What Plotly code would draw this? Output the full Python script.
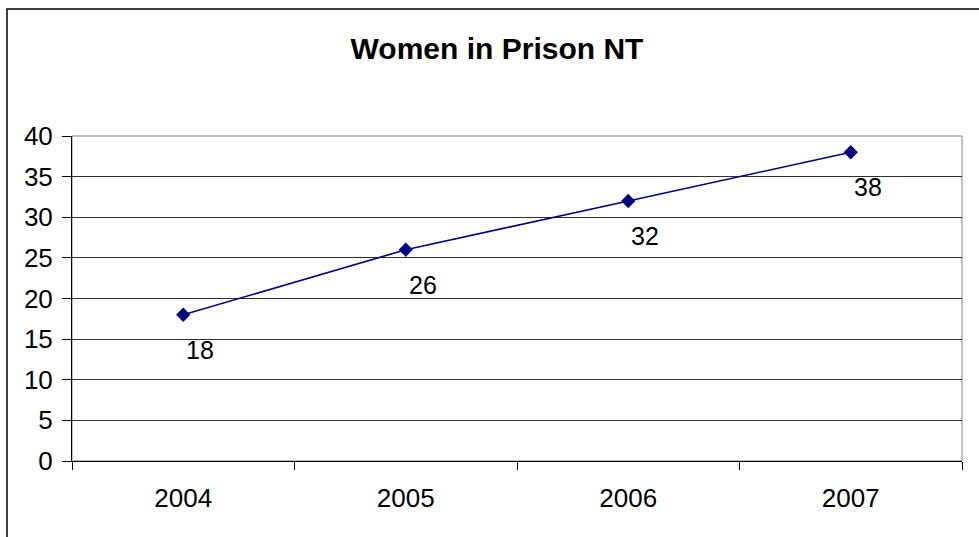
import plotly.graph_objects as go

# Data
years = ["2004", "2005", "2006", "2007"]
women = [18, 26, 32, 38]
y_ticks = [0, 5, 10, 15, 20, 25, 30, 35, 40]

W, H = 979, 537
# plot area in pixels
PL, PR, PT, PB = 72, 962, 136, 461
FONT = "Arial, Liberation Sans, sans-serif"
NAVY = "#000080"

fig = go.Figure()
fig.add_trace(go.Scatter(
    x=years, y=women, mode="lines+markers",
    line=dict(color=NAVY, width=1.6),
    marker=dict(symbol="diamond", size=11, color=NAVY),
    showlegend=False, hoverinfo="skip", cliponaxis=False,
))

annotations = []
for i, v in enumerate(women):
    annotations.append(dict(
        x=i, y=v, xref="x", yref="y", text=str(v), showarrow=False,
        xshift=17, yshift=-35, font=dict(family=FONT, size=25, color="black"),
    ))

# paper coordinates for outer chart border
def px_to_paper_x(px):
    return (px - PL) / (PR - PL)

def px_to_paper_y(py):
    return (PB - py) / (PB - PT)

shapes = [
    # outer chart border (extends beyond right/bottom edges)
    dict(type="rect", xref="paper", yref="paper",
         x0=px_to_paper_x(7), x1=px_to_paper_x(W + 20),
         y0=px_to_paper_y(H + 20), y1=px_to_paper_y(9),
         line=dict(color="black", width=1.5), fillcolor="rgba(0,0,0,0)", layer="below"),
    # plot area border (gray)
    dict(type="rect", xref="paper", yref="paper", x0=0, x1=1, y0=0, y1=1,
         line=dict(color="#808080", width=1), fillcolor="rgba(0,0,0,0)", layer="below"),
]

fig.update_layout(
    width=W, height=H,
    margin=dict(l=PL, r=W - PR, t=PT, b=H - PB, pad=0),
    paper_bgcolor="white", plot_bgcolor="white",
    font=dict(family=FONT, color="black"),
    title=dict(text="<b>Women in Prison NT</b>", x=497 / W, xref="container", xanchor="center",
               y=1 - 48 / H, yref="container", yanchor="middle",
               font=dict(family=FONT, size=30, color="black")),
    annotations=annotations,
    shapes=shapes,
    xaxis=dict(
        type="category", range=[-0.5, len(years) - 0.5],
        showgrid=False, showline=True, linecolor="black", linewidth=1,
        ticks="outside", tickson="boundaries", ticklen=8, tickcolor="black", tickwidth=1,
        tickfont=dict(family=FONT, size=26, color="black"), ticklabelstandoff=14,
        fixedrange=True,
    ),
    yaxis=dict(
        range=[0, 40], tickvals=y_ticks,
        showgrid=True, gridcolor="#303030", gridwidth=1, zeroline=False,
        showline=True, linecolor="black", linewidth=1,
        ticks="outside", ticklen=9, tickcolor="black", tickwidth=1,
        tickfont=dict(family=FONT, size=26, color="black"), ticklabelstandoff=4,
        fixedrange=True,
    ),
)

fig.write_html("out.html")
